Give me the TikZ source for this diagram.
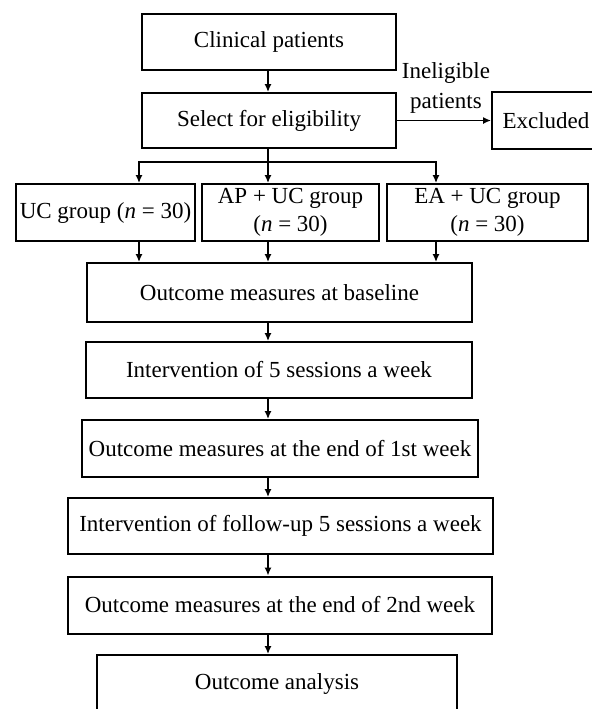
\documentclass[tikz,border=0pt]{standalone}
\usepackage{fontspec}
\setmainfont{Liberation Serif}
\usepackage{tikz}
\usetikzlibrary{arrows.meta,positioning,calc}
\newcommand{\boxfont}{\fontsize{11.5}{14}\selectfont}

\begin{document}
\begin{tikzpicture}[x=0.5pt, y=-0.5pt,
    box/.style={rectangle, draw, line width=1pt, inner sep=0pt, align=center, font=\boxfont},
    link/.style={line width=0.9pt},
    arr/.style={line width=0.9pt, -{Latex[length=4pt,width=3.6pt]}}]
    \useasboundingbox (0,0) rectangle (591,709);

    % Columns of the connectors
    \coordinate (colA) at (139,0);
    \coordinate (colB) at (268,0);
    \coordinate (colC) at (436,0);

    % Recruitment
    \node[box, minimum width=127pt, minimum height=28pt] (clin) at (269,42) {Clinical patients};
    \node[box, minimum width=127pt, minimum height=27.5pt] (select) at (269,120.5) {Select for eligibility};
    \node[box, minimum width=54pt, minimum height=28.5pt] (excl) at (546,120.5) {Excluded};
    \node[font=\fontsize{11.5}{15}\selectfont, align=center, inner sep=0pt] (inel) at (446,88) {Ineligible\\patients};

    % Groups
    \node[box, minimum width=89.5pt, minimum height=28.5pt] (uc) at (105.5,212.5) {UC group (\textit{n} = 30)};
    \node[box, minimum width=88.5pt, minimum height=28.5pt] (ap) at (290.5,212.5) {AP + UC group\\(\textit{n} = 30)};
    \node[box, minimum width=100.5pt, minimum height=28.5pt] (ea) at (487.5,212.5) {EA + UC group\\(\textit{n} = 30)};

    % Measures and intervention
    \node[box, minimum width=192.5pt, minimum height=29.5pt] (base) at (279.5,292.5) {Outcome measures at baseline};
    \node[box, minimum width=193pt, minimum height=28pt] (interv) at (279,370) {Intervention of 5 sessions a week};
    \node[box, minimum width=198pt, minimum height=28.5pt] (wkone) at (280,448.5) {Outcome measures at the end of 1st week};
    \node[box, minimum width=212.5pt, minimum height=28pt] (follow) at (280.5,526) {Intervention of follow-up 5 sessions a week};
    \node[box, minimum width=212pt, minimum height=28.5pt] (wktwo) at (280,605) {Outcome measures at the end of 2nd week};
    \node[box, minimum width=180pt, minimum height=28.5pt] (anal) at (277,683.5) {Outcome analysis};

    % Connections
    \coordinate (split) at (268,162);
    \draw[arr] (clin.south -| colB) -- (select.north -| colB);
    \draw[arr] (select.east) -- (excl.west);
    \draw[link] (select.south -| colB) -- (split);
    \draw[arr] (split) -| (uc.north -| colA);
    \draw[arr] (split) -- (ap.north -| colB);
    \draw[arr] (split) -| (ea.north -| colC);
    \draw[arr] (uc.south -| colA) -- (base.north -| colA);
    \draw[arr] (ap.south -| colB) -- (base.north -| colB);
    \draw[arr] (ea.south -| colC) -- (base.north -| colC);
    \draw[arr] (base.south -| colB) -- (interv.north -| colB);
    \draw[arr] (interv.south -| colB) -- (wkone.north -| colB);
    \draw[arr] (wkone.south -| colB) -- (follow.north -| colB);
    \draw[arr] (follow.south -| colB) -- (wktwo.north -| colB);
    \draw[arr] (wktwo.south -| colB) -- (anal.north -| colB);
\end{tikzpicture}
\end{document}
